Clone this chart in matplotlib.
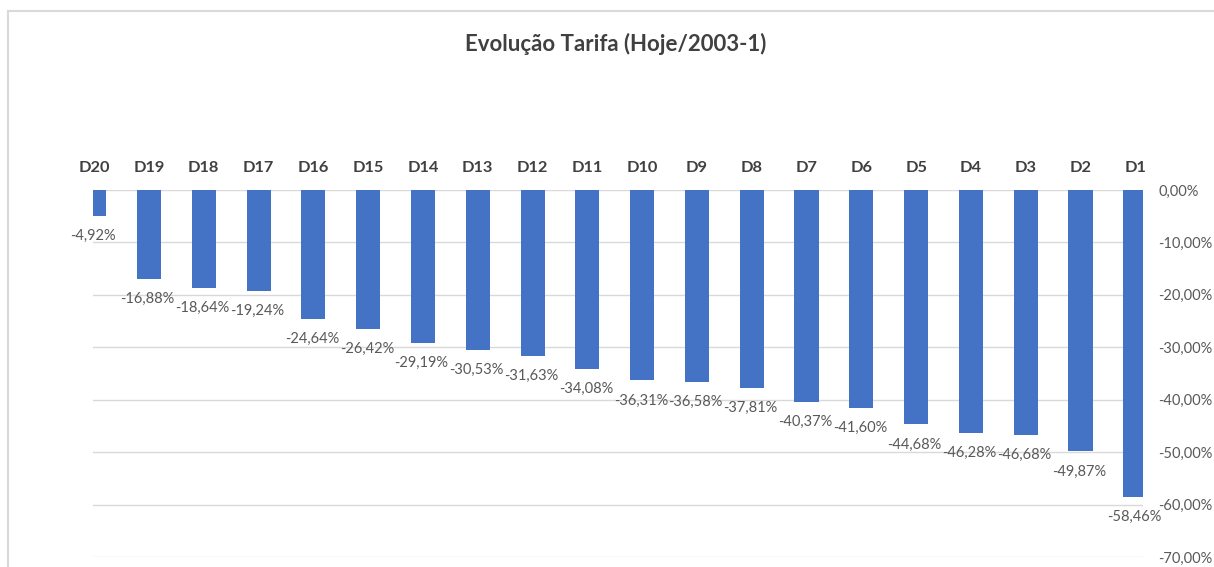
import matplotlib.pyplot as plt
from matplotlib.lines import Line2D
from matplotlib.ticker import FuncFormatter

# Dados: variação da tarifa por escalão
categorias = ['D20', 'D19', 'D18', 'D17', 'D16', 'D15', 'D14', 'D13', 'D12', 'D11',
              'D10', 'D9', 'D8', 'D7', 'D6', 'D5', 'D4', 'D3', 'D2', 'D1']
variacao = [-4.92, -16.88, -18.64, -19.24, -24.64, -26.42, -29.19, -30.53, -31.63, -34.08,
            -36.31, -36.58, -37.81, -40.37, -41.60, -44.68, -46.28, -46.68, -49.87, -58.46]
ticks_y = [0, -10, -20, -30, -40, -50, -60, -70]

plt.rcParams['font.family'] = ['Lato', 'DejaVu Sans']

azul = '#4472C4'
cinza_texto = '#595959'
cinza_escuro = '#404040'
cinza_grelha = '#d9d9d9'


def pct(v, pos=None):
    return f'{v:.2f}'.replace('.', ',') + '%'


fig = plt.figure(figsize=(12.14, 5.67), dpi=100)
ax = fig.add_axes([0.0766, 0.0176, 0.8649, 0.6473])

x = list(range(len(categorias)))
ax.bar(x, variacao, width=0.44, color=azul, zorder=3)

# Rótulos de valor por baixo de cada barra
for xi, v in zip(x, variacao):
    ax.annotate(pct(v), (xi, v), xytext=(-1, -14.5), textcoords='offset points',
                ha='center', va='center', fontsize=10.5, color=cinza_texto)

# Categorias em cima
for xi, c in zip(x, categorias):
    ax.text(xi, 4.2, c, ha='center', va='center', fontsize=11.8,
            fontweight='bold', color=cinza_escuro, clip_on=False)

ax.set_xlim(-0.022, 19.14)
ax.set_ylim(-70, 0)
ax.set_xticks([])
ax.set_yticks(ticks_y)
ax.yaxis.tick_right()
ax.yaxis.set_major_formatter(FuncFormatter(pct))
ax.tick_params(axis='y', length=0, pad=11, labelsize=10.5, labelcolor=cinza_texto)
for lbl in ax.get_yticklabels():
    lbl.set_horizontalalignment('left')
ax.grid(axis='y', color=cinza_grelha, linewidth=1, zorder=0)
for s in ax.spines.values():
    s.set_visible(False)

fig.text(0.507, 0.922, 'Evolução Tarifa (Hoje/2003-1)', ha='center', va='center',
         fontsize=16, fontweight='bold', color=cinza_escuro)

# Moldura do gráfico
fig.add_artist(Line2D([8 / 1214, 1], [1 - 11 / 567] * 2, color=cinza_grelha, lw=1.5))
fig.add_artist(Line2D([8 / 1214] * 2, [0, 1 - 11 / 567], color=cinza_grelha, lw=1.5))

fig.savefig('out.png', dpi=100, facecolor='white')
